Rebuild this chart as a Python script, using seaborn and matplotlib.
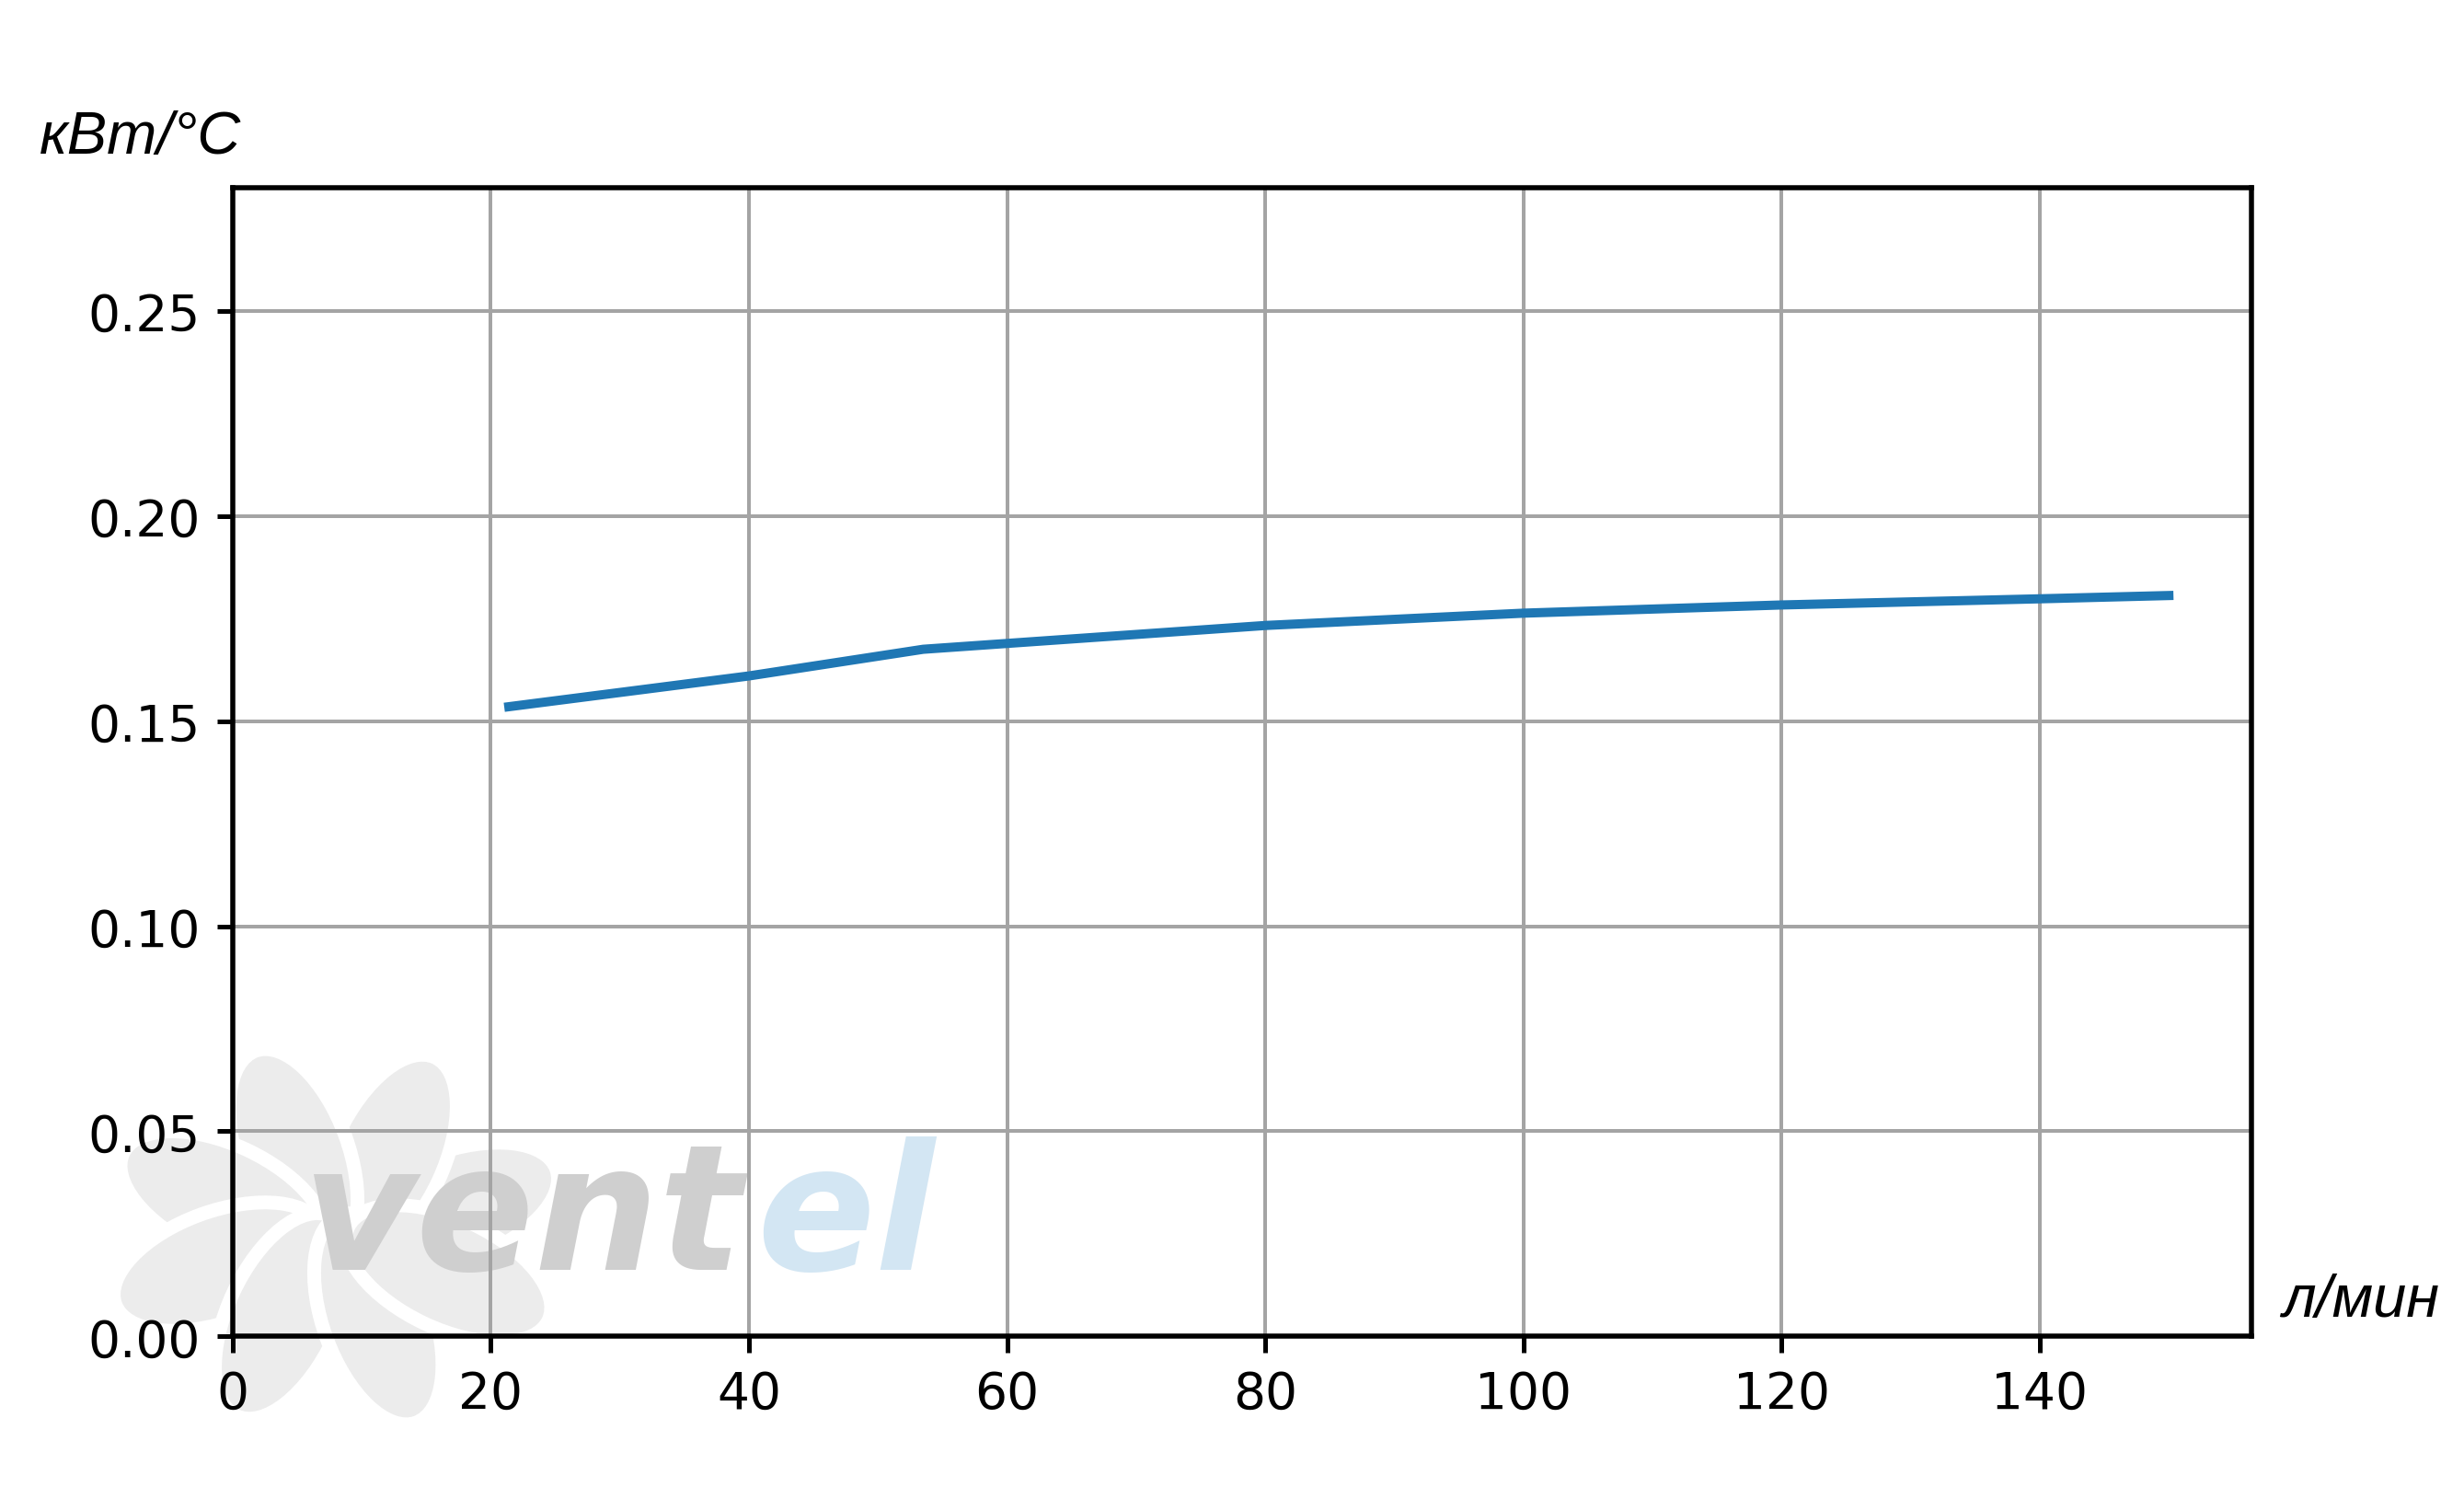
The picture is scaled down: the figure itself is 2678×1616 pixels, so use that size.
import matplotlib
matplotlib.use("Agg")
import matplotlib.pyplot as plt
from matplotlib.patches import Ellipse
import numpy as np
import pandas as pd
import seaborn as sns

# flow, l/min -> heat output per degree, kW/°C
flow = [21.4, 40, 53.5, 80, 100, 120, 140, 150]
power = [0.1535, 0.1610, 0.1675, 0.1733, 0.1763, 0.1783, 0.1798, 0.1806]
y_ticks = [0.00, 0.05, 0.10, 0.15, 0.20, 0.25]
x_ticks = [0, 20, 40, 60, 80, 100, 120, 140]

df = pd.DataFrame({"flow": flow, "power": power})

W, H, DPI = 2678, 1617, 360
fig = plt.figure(figsize=(W / DPI, H / DPI), dpi=DPI)
fig.patch.set_facecolor("white")

# faint logo behind the plot
wm = fig.add_axes([100 / W, 1 - 1560 / H, 950 / W, 480 / H])
wm.set_xlim(0, 950)
wm.set_ylim(0, 480)
wm.axis("off")
wm.set_zorder(0)
cx, cy = 265, 215
for ang in range(0, 360, 45):
    a = np.deg2rad(ang + 20)
    e = Ellipse((cx + 135 * np.cos(a), cy + 95 * np.sin(a)), 240, 120,
                angle=ang + 20, facecolor="#ececec", edgecolor="white", lw=3)
    wm.add_patch(e)
wm.text(228, 180, "vent", fontsize=38, fontweight="heavy", style="italic",
        color="#cfcfcf", family="DejaVu Sans", va="baseline")
wm.text(722, 180, "el", fontsize=38, fontweight="heavy", style="italic",
        color="#d3e6f3", family="DejaVu Sans", va="baseline")

ax = fig.add_axes([0.0944, 0.1012, 0.8195, 0.7720])
ax.set_zorder(1)
ax.patch.set_alpha(0)
sns.lineplot(data=df, x="flow", y="power", ax=ax, color="#1f77b4", lw=2)
ax.grid(True, color="#a4a4a4", lw=0.8)
ax.set_xticks(x_ticks)
ax.set_yticks(y_ticks)
ax.set_xlim(0, None)
ax.set_ylim(0, 0.28)
ax.tick_params(labelsize=11, width=1.0)
for s in ax.spines.values():
    s.set_linewidth(1.1)
ax.set_xlabel("")
ax.set_ylabel("")

fig.text(0.016, 0.897, "кВт/°C", fontsize=13, style="italic",
         family="Liberation Sans", va="baseline")
fig.text(0.926, 0.115, "л/мин", fontsize=13, style="italic",
         family="Liberation Sans", va="baseline")

fig.savefig("out.png", dpi=DPI)
